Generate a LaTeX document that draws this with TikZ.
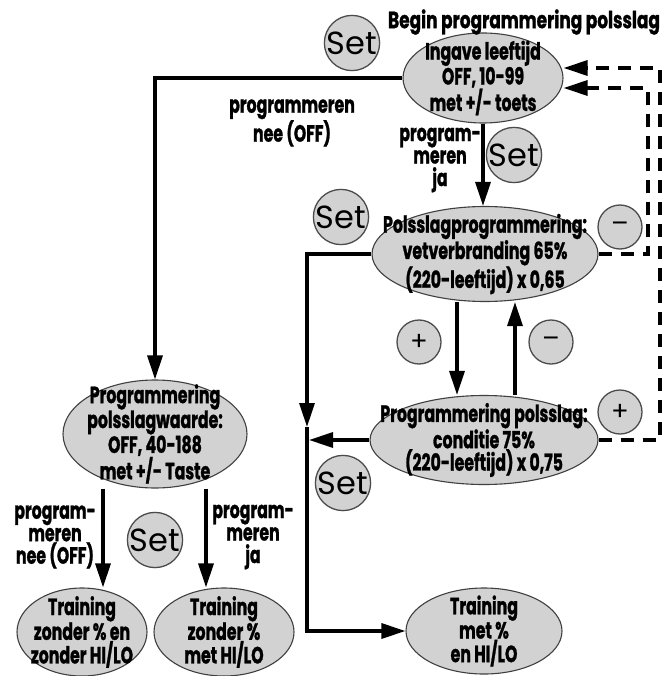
\documentclass[tikz,border=0pt]{standalone}
\usepackage{fontspec}
\setmainfont{Poppins}
\newfontfamily\condb{Poppins}[FakeStretch=0.67, BoldFeatures={FakeBold=1.1}]
\newfontfamily\condt{Poppins}[FakeStretch=0.72, BoldFeatures={FakeBold=1.1}]
\usetikzlibrary{arrows.meta,shapes.geometric,backgrounds}
\tikzset{
  blob/.style={ellipse, draw=black!75, line width=1.1pt, fill=gray!35, inner sep=0pt},
  btxt/.style={font=\condb\bfseries\fontsize{23.5}{22.5}\selectfont, align=center, inner sep=0pt},
  ttxt/.style={font=\condt\bfseries\fontsize{23.5}{22.5}\selectfont, align=center, inner sep=0pt},
  setc/.style={circle, draw=black!70, line width=1.3pt, fill=gray!35, minimum size=52pt, inner sep=0pt, font=\fontsize{32}{32}\selectfont},
  pmc/.style={circle, draw=black!70, line width=1.3pt, fill=gray!35, minimum size=44pt, inner sep=0pt, font=\fontsize{26}{26}\selectfont},
  conn/.style={line width=3.2pt, -{Triangle[length=24pt,width=15pt]}},
  dconn/.style={line width=3.2pt, dash pattern=on 13pt off 9pt, -{Triangle[length=24pt,width=15pt]}},
}
\begin{document}
\begin{tikzpicture}[x=1pt,y=-1pt]
\useasboundingbox (0,0) rectangle (667,676);
% main nodes
\node[blob, minimum width=160pt, minimum height=90pt] (ing) at (483,78) {};
\node[btxt] at (ing) {Ingave leeftijd\\OFF, 10-99\\met +/- toets};
\node[blob, minimum width=226pt, minimum height=95pt] (ps) at (485,254) {};
\node[btxt] at (ps) {Polsslagprogrammering:\\vetverbranding 65\%\\(220-leeftijd) x 0,65};
\node[blob, minimum width=228pt, minimum height=89pt] (pp) at (484,440) {};
\node[btxt] at (pp) {Programmering polsslag:\\conditie 75\%\\(220-leeftijd) x 0,75};
\node[blob, minimum width=184pt, minimum height=108pt] (pw) at (155,434) {};
\node[btxt] at (pw) {Programmering\\polsslagwaarde:\\OFF, 40-188\\met +/- Taste};
\node[blob, minimum width=130pt, minimum height=88pt] (tz1) at (82,632) {};
\node[btxt] at (tz1) {Training\\zonder \% en\\zonder HI/LO};
\node[blob, minimum width=140pt, minimum height=88pt] (tz2) at (224,632) {};
\node[btxt] at (tz2) {Training\\zonder \%\\met HI/LO};
\node[blob, minimum width=156pt, minimum height=86pt] (tm) at (484,631) {};
\node[btxt] at (tm) {Training\\met \%\\en HI/LO};
% buttons
\node[setc] (s1) at (352,43) {Set};
\node[setc] (s2) at (514,155) {Set};
\node[setc] (s3) at (341,217) {Set};
\node[setc] (s4) at (343,483) {Set};
\node[setc] (s5) at (155,540) {Set};
\node[pmc] (m1) at (620,227) {–};
\node[pmc] (p1) at (419,342) {+};
\node[pmc] (m2) at (551,342) {–};
\node[pmc] (p2) at (620,412) {+};
% labels
\node[ttxt] (title) at (524,22) {Begin programmering polsslag};
\node[btxt] (l1) at (292,123) {programmeren\\nee (OFF)};
\node[btxt] (l2) at (440,160) {program-\\meren\\ja};
\node[btxt] (l3) at (55,537) {program-\\meren\\nee (OFF)};
\node[btxt] (l4) at (253,537) {program-\\meren\\ja};
% helper coordinates
\coordinate (jn) at (307,427);
\coordinate (jl) at (309,440);
\coordinate (xa) at (457,0);
\coordinate (xb) at (515,0);
\coordinate (xc) at (103,0);
\coordinate (xd) at (206,0);
\coordinate (d1) at (648,88);
\coordinate (d2) at (660,68);
\begin{scope}[on background layer]
\draw[conn] (ing.west) -| (pw.north);
\draw[conn] (ing.south) -- (ing.south |- ps.north);
\draw[conn] (ps.west) -| (jn);
\draw[conn] (jn) |- (tm.west);
\draw[conn] (pp.west) -- (jl);
\draw[conn] (ps.south -| xa) -- (pp.north -| xa);
\draw[conn] (pp.north -| xb) -- (ps.south -| xb);
\draw[conn] (pw.south -| xc) -- (tz1.north -| xc);
\draw[conn] (pw.south -| xd) -- (tz2.north -| xd);
\draw[dconn] (ps.east) -| (d1) -- (d1 -| ing.east);
\draw[dconn] (pp.east) -| (d2) -- (d2 -| ing.east);
\end{scope}
\end{tikzpicture}
\end{document}
